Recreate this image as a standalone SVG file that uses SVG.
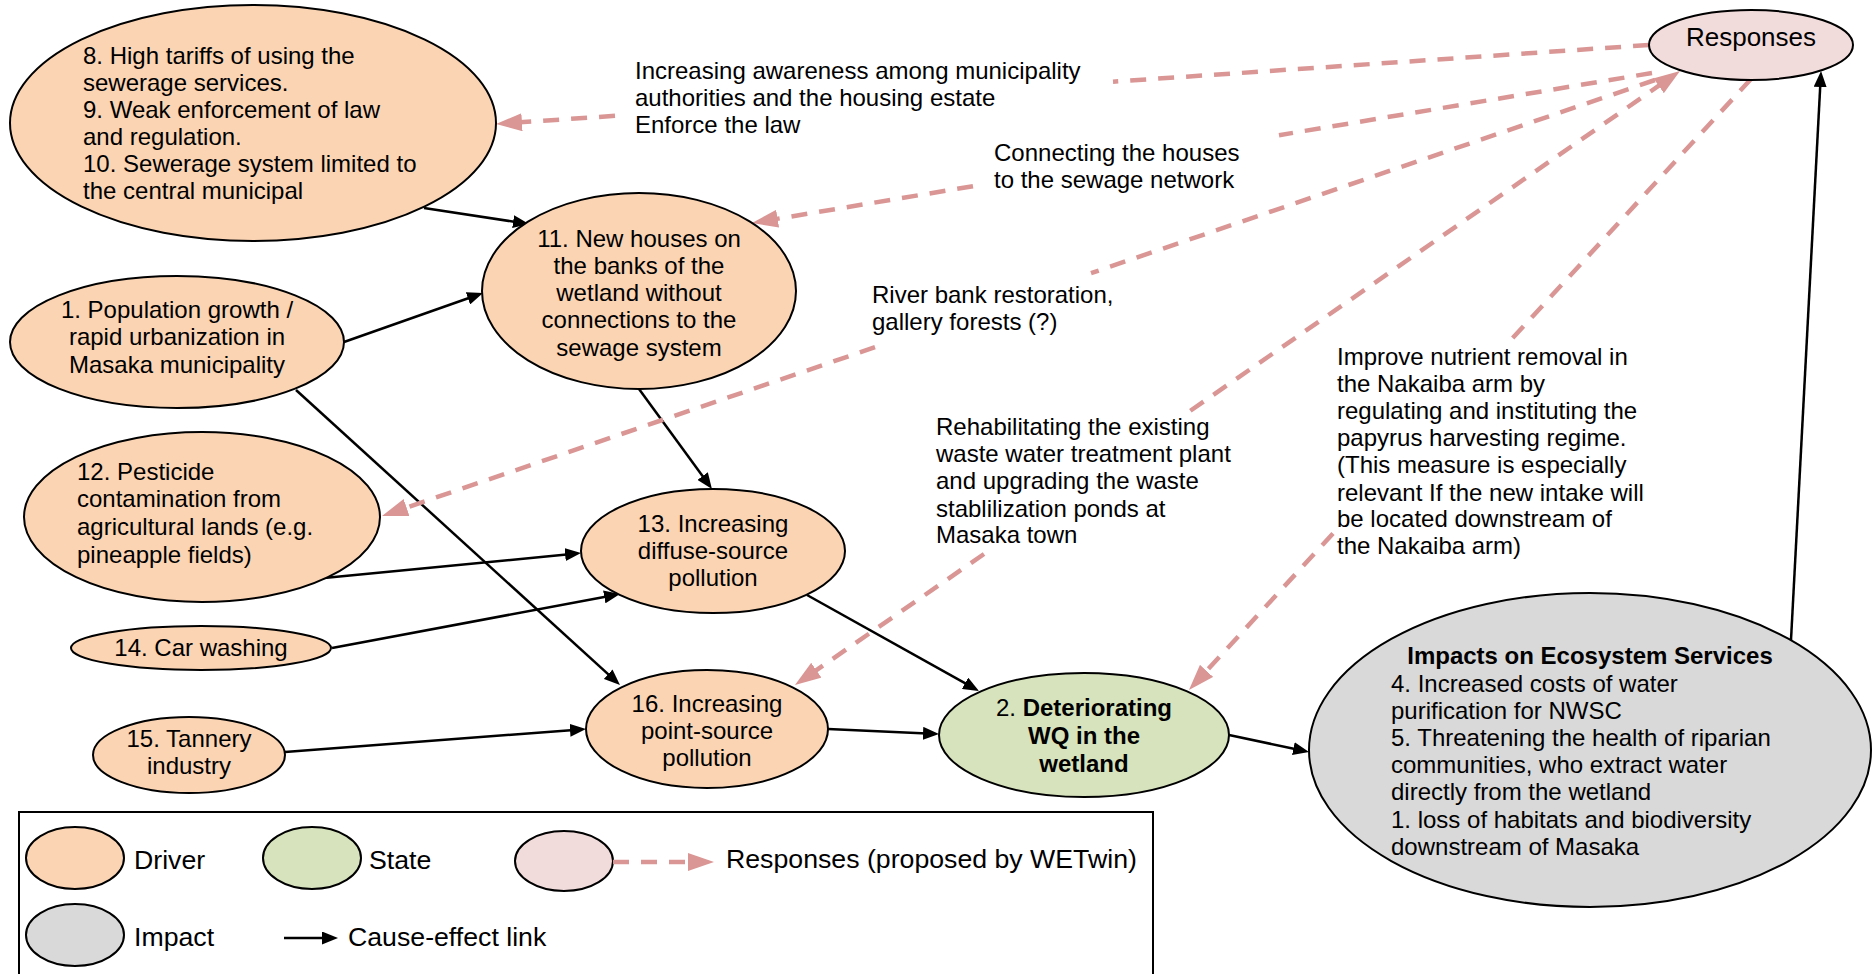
<svg xmlns="http://www.w3.org/2000/svg" width="1872" height="974" viewBox="0 0 1872 974">
<defs>
<style>
text{font-family:"Liberation Sans",Arial,sans-serif;font-size:24px;fill:#000}
.c{text-anchor:middle}
.b{font-weight:bold}
.nd{stroke:#000;stroke-width:2}
.drv{fill:#FBD4B4}
.st{fill:#D6E3BC}
.rs{fill:#F2DBDB}
.im{fill:#D9D9D9}
.k{stroke:#000;stroke-width:2.5;fill:none;marker-end:url(#ak)}
.r{stroke:#D99694;stroke-width:4.5;fill:none;stroke-dasharray:16 12;marker-end:url(#ar)}
.lg{font-size:26.7px}
</style>
<marker id="ak" markerUnits="userSpaceOnUse" markerWidth="16" markerHeight="13" refX="4" refY="6.5" orient="auto"><path d="M0,0 L16,6.5 L0,13 z" fill="#000"/></marker>
<marker id="ar" markerUnits="userSpaceOnUse" markerWidth="26" markerHeight="18" refX="6" refY="9" orient="auto-start-reverse"><path d="M0,0 L26,9 L0,18 z" fill="#D99694"/></marker>
</defs>
<rect width="1872" height="974" fill="#fff"/>

<g id="connectors">
<path class="k" d="M424,208 L517.1,222.2"/>
<path class="k" d="M344,342 L471.7,297"/>
<path class="k" d="M296,390 L611.1,676.9"/>
<path class="k" d="M639,389 L704.9,479.3"/>
<path class="k" d="M324,578 L569.1,554.2"/>
<path class="k" d="M332,648 L608.2,596.2"/>
<path class="k" d="M285,752 L574,729.9"/>
<path class="k" d="M807,595 L968.5,685.2"/>
<path class="k" d="M828,729 L927,733.5"/>
<path class="k" d="M1229,735 L1297.3,749.5"/>
<path class="k" d="M1791,640 L1820.4,83"/>
<path class="r" d="M1649,45 L1113,81.7 M615,115.8 L516,122.6"/>
<path class="r" d="M1652,73 L1279,135.2 M973,186.2 L771.7,219.7"/>
<path class="r" d="M1655,80 L1091,273.2 M875,347.2 L400.9,509.5"/>
<path class="r" d="M1663.6,82.4 L1185,414.5 M984,554 L811.4,673.6" marker-start="url(#ar)"/>
<path class="r" d="M1751,79 L1512,338.8 M1333,533.4 L1202.5,675.3"/>
</g>

<g id="n8">
<ellipse class="nd drv" cx="253" cy="123" rx="243" ry="118"/>
<text x="83" y="64">8. High tariffs of using the<tspan x="83" y="91">sewerage services.</tspan><tspan x="83" y="118">9. Weak enforcement of law</tspan><tspan x="83" y="145">and regulation.</tspan><tspan x="83" y="172">10. Sewerage system limited to</tspan><tspan x="83" y="199">the central municipal</tspan></text>
</g>

<g id="n11">
<ellipse class="nd drv" cx="639" cy="291" rx="157" ry="98"/>
<text class="c" x="639" y="247">11. New houses on<tspan x="639" y="274">the banks of the</tspan><tspan x="639" y="301">wetland without</tspan><tspan x="639" y="328">connections to the</tspan><tspan x="639" y="356">sewage system</tspan></text>
</g>

<g id="n1">
<ellipse class="nd drv" cx="177" cy="342" rx="167" ry="66"/>
<text class="c" x="177" y="318">1. Population growth /<tspan x="177" y="345">rapid urbanization in</tspan><tspan x="177" y="373">Masaka municipality</tspan></text>
</g>

<g id="n12">
<ellipse class="nd drv" cx="202" cy="517" rx="178" ry="85"/>
<text x="77" y="480">12. Pesticide<tspan x="77" y="507">contamination from</tspan><tspan x="77" y="535">agricultural lands (e.g.</tspan><tspan x="77" y="563">pineapple fields)</tspan></text>
</g>

<g id="n13">
<ellipse class="nd drv" cx="713" cy="551" rx="132" ry="62"/>
<text class="c" x="713" y="532">13. Increasing<tspan x="713" y="559">diffuse-source</tspan><tspan x="713" y="586">pollution</tspan></text>
</g>

<g id="n14">
<ellipse class="nd drv" cx="201" cy="648" rx="130" ry="22"/>
<text class="c" x="201" y="656">14. Car washing</text>
</g>

<g id="n15">
<ellipse class="nd drv" cx="189" cy="755" rx="96" ry="38"/>
<text class="c" x="189" y="747">15. Tannery<tspan x="189" y="774">industry</tspan></text>
</g>

<g id="n16">
<ellipse class="nd drv" cx="707" cy="729" rx="121" ry="59"/>
<text class="c" x="707" y="712">16. Increasing<tspan x="707" y="739">point-source</tspan><tspan x="707" y="766">pollution</tspan></text>
</g>

<g id="n2">
<ellipse class="nd st" cx="1084" cy="735" rx="145" ry="62"/>
<text class="c" x="1084" y="716">2. <tspan class="b">Deteriorating</tspan><tspan class="b" x="1084" y="744">WQ in the</tspan><tspan class="b" x="1084" y="772">wetland</tspan></text>
</g>

<g id="impact">
<ellipse class="nd im" cx="1590" cy="750" rx="281" ry="157"/>
<text class="c b" x="1590" y="664">Impacts on Ecosystem Services</text>
<text x="1391" y="692">4. Increased costs of water<tspan x="1391" y="719">purification for NWSC</tspan><tspan x="1391" y="746">5. Threatening the health of riparian</tspan><tspan x="1391" y="773">communities, who extract water</tspan><tspan x="1391" y="800">directly from the wetland</tspan><tspan x="1391" y="828">1. loss of habitats and biodiversity</tspan><tspan x="1391" y="855">downstream of Masaka</tspan></text>
</g>

<g id="responses">
<ellipse class="nd rs" cx="1751" cy="45" rx="102" ry="35"/>
<text class="c" x="1751" y="46" style="font-size:26px">Responses</text>
</g>

<g id="labels">
<text x="635" y="79">Increasing awareness among municipality<tspan x="635" y="106">authorities and the housing estate</tspan><tspan x="635" y="133">Enforce the law</tspan></text>
<text x="994" y="161">Connecting the houses<tspan x="994" y="188">to the sewage network</tspan></text>
<text x="872" y="303">River bank restoration,<tspan x="872" y="330">gallery forests (?)</tspan></text>
<text x="936" y="435">Rehabilitating the existing<tspan x="936" y="462">waste water treatment plant</tspan><tspan x="936" y="489">and upgrading the waste</tspan><tspan x="936" y="517">stablilization ponds at</tspan><tspan x="936" y="543">Masaka town</tspan></text>
<text x="1337" y="365">Improve nutrient removal in<tspan x="1337" y="392">the Nakaiba arm by</tspan><tspan x="1337" y="419">regulating and instituting the</tspan><tspan x="1337" y="446">papyrus harvesting regime.</tspan><tspan x="1337" y="473">(This measure is especially</tspan><tspan x="1337" y="501">relevant If the new intake will</tspan><tspan x="1337" y="527">be located downstream of</tspan><tspan x="1337" y="554">the Nakaiba arm)</tspan></text>
</g>

<g id="legend">
<rect x="19" y="812" width="1134" height="200" fill="#fff" stroke="#000" stroke-width="2"/>
<ellipse class="nd drv" cx="75" cy="858" rx="49" ry="31"/>
<text class="lg" x="134" y="869">Driver</text>
<ellipse class="nd st" cx="312" cy="858" rx="49" ry="31"/>
<text class="lg" x="369" y="869">State</text>
<ellipse class="nd rs" cx="564" cy="861" rx="49" ry="30"/>
<path class="r" d="M613,862 L694,862"/>
<text class="lg" x="726" y="868">Responses (proposed by WETwin)</text>
<ellipse class="nd im" cx="75" cy="935" rx="49" ry="31"/>
<text class="lg" x="134" y="946">Impact</text>
<path class="k" d="M284,938 L326,938"/>
<text class="lg" x="348" y="946">Cause-effect link</text>
</g>
</svg>
